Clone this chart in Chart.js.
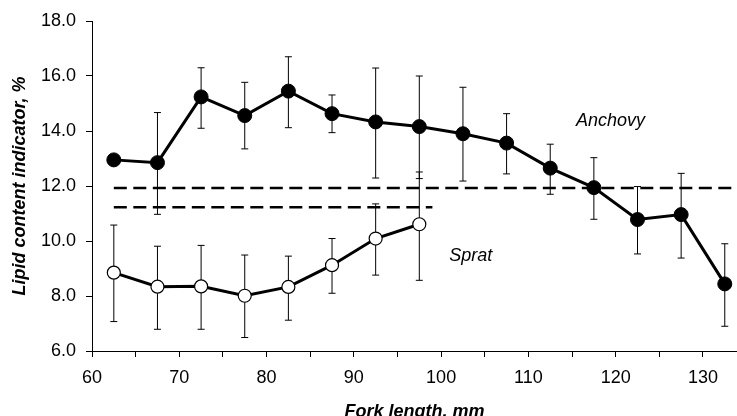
<!DOCTYPE html>
<html>
<head>
<meta charset="utf-8">
<script src="https://cdn.jsdelivr.net/npm/chart.js@4.4.1/dist/chart.umd.min.js"></script>
<style>
  html, body { margin: 0; padding: 0; background: #fff; }
  #wrap { width: 737px; height: 416px; }
</style>
</head>
<body>
<div id="wrap"><canvas id="grafico" width="737" height="416"></canvas></div>
<script>
// fork length classes, mm
const anchovyLength = [62.5, 67.5, 72.5, 77.5, 82.5, 87.5, 92.5, 97.5, 102.5, 107.5, 112.5, 117.5, 122.5, 127.5, 132.5];
const anchovyMean = [12.95, 12.85, 15.24, 14.56, 15.45, 14.63, 14.33, 14.16, 13.90, 13.56, 12.65, 11.94, 10.78, 10.96, 8.44];
const anchovyLow  = [12.95, 10.97, 14.10, 13.35, 14.12, 13.94, 12.29, 12.27, 12.18, 12.44, 11.70, 10.79, 9.53, 9.38, 6.90];
const anchovyHigh = [12.95, 14.67, 16.30, 15.77, 16.70, 15.31, 16.29, 16.00, 15.59, 14.63, 13.52, 13.03, 11.98, 12.46, 9.90];

const spratLength = [62.5, 67.5, 72.5, 77.5, 82.5, 87.5, 92.5, 97.5];
const spratMean = [8.85, 8.34, 8.35, 8.01, 8.33, 9.12, 10.09, 10.61];
const spratLow  = [7.07, 6.79, 6.79, 6.49, 7.12, 8.10, 8.76, 8.57];
const spratHigh = [10.58, 9.81, 9.84, 9.49, 9.45, 10.09, 11.35, 12.51];

// dashed reference levels
const anchovyRefX = [62.5, 134];
const anchovyRef = 11.93;
const spratRefX = [62.5, 99];
const spratRef = 11.23;

const yTicks = [6, 8, 10, 12, 14, 16, 18];

const FONT = '"Liberation Sans", Arial, sans-serif';

function pts(xs, ys) {
    return xs.map((x, i) => ({ x: x, y: Array.isArray(ys) ? ys[i] : ys }));
}

const errorBars = {
    id: 'errorBars',
    beforeDatasetsDraw(chart) {
        const ctx = chart.ctx;
        const xs = chart.scales.x, ys = chart.scales.y;
        const sets = [
            [anchovyLength, anchovyLow, anchovyHigh],
            [spratLength, spratLow, spratHigh]
        ];
        ctx.save();
        ctx.strokeStyle = '#000';
        ctx.lineWidth = 1;
        sets.forEach(([xv, lo, hi]) => {
            xv.forEach((x, i) => {
                if (lo[i] === hi[i]) return;
                const px = xs.getPixelForValue(x);
                const p1 = ys.getPixelForValue(lo[i]);
                const p2 = ys.getPixelForValue(hi[i]);
                ctx.beginPath();
                ctx.moveTo(px, p1); ctx.lineTo(px, p2);
                ctx.moveTo(px - 3.5, p1); ctx.lineTo(px + 3.5, p1);
                ctx.moveTo(px - 3.5, p2); ctx.lineTo(px + 3.5, p2);
                ctx.stroke();
            });
        });
        ctx.restore();
    }
};

const seriesLabels = {
    id: 'seriesLabels',
    afterDatasetsDraw(chart) {
        const ctx = chart.ctx;
        const xs = chart.scales.x, ys = chart.scales.y;
        ctx.save();
        ctx.fillStyle = '#000';
        ctx.font = 'italic 18px ' + FONT;
        ctx.textAlign = 'center';
        ctx.textBaseline = 'middle';
        ctx.fillText('Anchovy', xs.getPixelForValue(119.4), ys.getPixelForValue(14.35));
        ctx.fillText('Sprat', xs.getPixelForValue(103.4), ys.getPixelForValue(9.47));
        ctx.restore();
    }
};

const ctx = document.getElementById('grafico').getContext('2d');
new Chart(ctx, {
    type: 'line',
    data: {
        datasets: [{
            label: 'Anchovy',
            data: pts(anchovyLength, anchovyMean),
            borderColor: '#000',
            borderWidth: 3,
            pointRadius: 7,
            pointBackgroundColor: '#000',
            pointBorderColor: '#000',
            pointBorderWidth: 1,
            tension: 0
        }, {
            label: 'Sprat',
            data: pts(spratLength, spratMean),
            borderColor: '#000',
            borderWidth: 3,
            pointRadius: 6.5,
            pointBackgroundColor: '#fff',
            pointBorderColor: '#000',
            pointBorderWidth: 1.2,
            tension: 0
        }, {
            label: 'Anchovy level',
            data: pts(anchovyRefX, anchovyRef),
            borderColor: '#000',
            borderWidth: 2.5,
            borderDash: [13, 6.5],
            pointRadius: 0
        }, {
            label: 'Sprat level',
            data: pts(spratRefX, spratRef),
            borderColor: '#000',
            borderWidth: 2.5,
            borderDash: [13, 6.5],
            pointRadius: 0
        }]
    },
    options: {
        responsive: false,
        animation: false,
        layout: { autoPadding: false, padding: { top: 21, left: 0, right: 0, bottom: 0 } },
        plugins: { legend: { display: false }, tooltip: { enabled: false } },
        scales: {
            x: {
                type: 'linear',
                min: 60,
                max: 133.9,
                afterFit: s => { s.height = 65; s.paddingLeft = 0; s.paddingRight = 0; },
                grid: { drawOnChartArea: false, drawTicks: true, tickLength: 6, color: '#000' },
                border: { display: true, color: '#000', width: 1 },
                ticks: {
                    stepSize: 5,
                    includeBounds: false,
                    autoSkip: false,
                    maxRotation: 0,
                    padding: 10.5,
                    color: '#000',
                    font: { family: FONT, size: 18 },
                    callback: v => (v % 10 === 0 ? String(v) : '')
                },
                title: {
                    display: true,
                    text: 'Fork length, mm',
                    color: '#000',
                    font: { family: FONT, size: 18, weight: 'bold', style: 'italic', lineHeight: 1.2 },
                    padding: { top: 0, bottom: -7 }
                }
            },
            y: {
                min: yTicks[0],
                max: yTicks[yTicks.length - 1],
                afterFit: s => { s.width = 92; },
                afterBuildTicks: s => { s.ticks = yTicks.map(v => ({ value: v })); },
                grid: { drawOnChartArea: false, drawTicks: true, tickLength: 6, color: '#000' },
                border: { display: true, color: '#000', width: 1 },
                ticks: {
                    padding: 10,
                    color: '#000',
                    font: { family: FONT, size: 18 },
                    callback: v => Number(v).toFixed(1)
                },
                title: {
                    display: true,
                    text: 'Lipid content indicator, %',
                    color: '#000',
                    font: { family: FONT, size: 18, weight: 'bold', style: 'italic', lineHeight: 1.2 },
                    padding: { top: 9, bottom: 0 }
                }
            }
        }
    },
    plugins: [errorBars, seriesLabels]
});
</script>
</body>
</html>
